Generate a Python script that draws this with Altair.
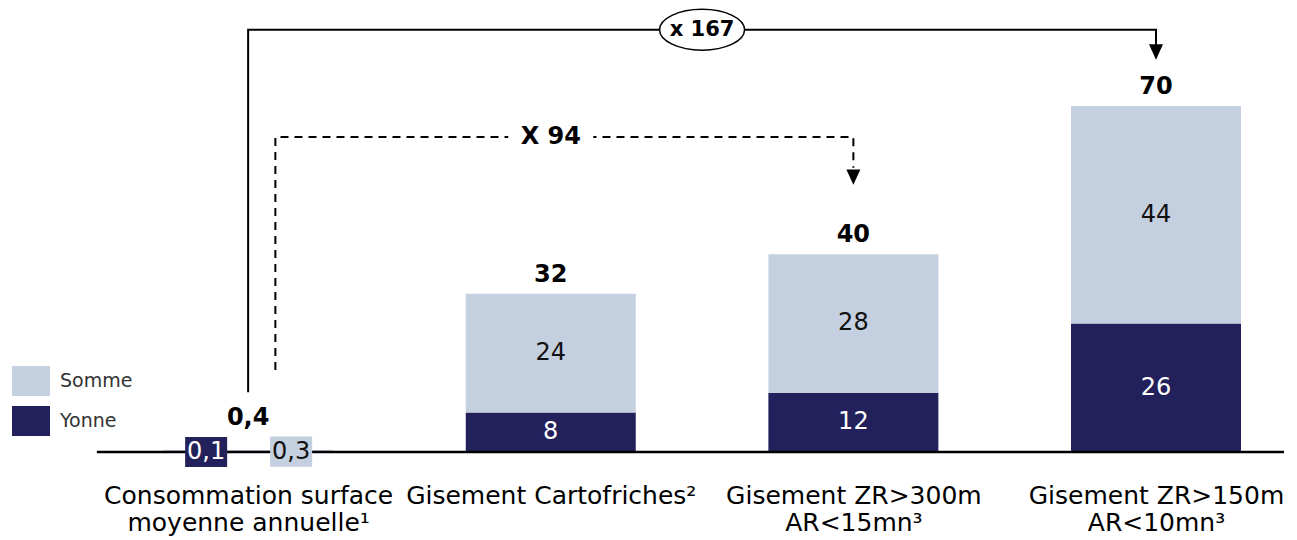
import json
import altair as alt
import pandas as pd

# ---------------- data ----------------
categories = [
    "Consommation surface|moyenne annuelle¹",
    "Gisement Cartofriches²",
    "Gisement ZR>300m|AR<15mn³",
    "Gisement ZR>150m|AR<10mn³",
]
positions = [0, 1, 2, 3]
yonne = [0.1, 8, 12, 26]
somme = [0.3, 24, 28, 44]
totals = [0.4, 32, 40, 70]
series_names = ["Somme", "Yonne"]
series_colors = ["#C4CFE0", "#23215B"]

# annotation brackets (data space)
solid_x = [0, 0, 3, 3]
solid_y = [12.1, 85.4, 85.4, 82.3]
dash_x = [0.09, 0.09, 2, 2]
dash_y = [16.6, 63.7, 63.7, 57.5]
arrow_x = [3, 2]
arrow_y = [80.9, 55.6]
ratio_labels = ["x 167", "X 94"]
ratio_x = [1.5, 1.0]
ratio_y = [85.4, 63.7]
baseline_x = [-0.5, 3.423]


def fr(v):
    return ("%g" % v).replace(".", ",")


rows = []
for i, p in enumerate(positions):
    rows.append(dict(pos=p, series="Yonne", order=0, value=yonne[i], label=fr(yonne[i])))
    rows.append(dict(pos=p, series="Somme", order=1, value=somme[i], label=fr(somme[i])))
df = pd.DataFrame(rows)
tot_df = pd.DataFrame(dict(pos=positions, total=totals, label=[fr(t) for t in totals]))

solid_df = pd.DataFrame(dict(px=solid_x, py=solid_y, step=range(len(solid_x))))
dash_df = pd.DataFrame(dict(px=dash_x, py=dash_y, step=range(len(dash_x))))
arrow_df = pd.DataFrame(dict(px=arrow_x, py=arrow_y))
ratio_df = pd.DataFrame(dict(px=ratio_x, py=ratio_y, label=ratio_labels))
base_df = pd.DataFrame(dict(x1=[baseline_x[0]], x2=[baseline_x[1]], y=[0]))

FONT = "DejaVu Sans"
W, H = 1281, 444

label_expr = "split(%s[datum.value], '|')" % json.dumps(categories, ensure_ascii=False)
xaxis = alt.Axis(
    values=positions, labelExpr=label_expr, domain=False, ticks=False, grid=False,
    labelFontSize=25, labelColor="#000000", labelFont=FONT, labelPadding=31,
    labelLineHeight=27, labelFlush=False, labelOverlap=False, labelLimit=0, title=None,
)
xscale = alt.Scale(domain=[-0.777, 3.423], nice=False, zero=False)
yscale = alt.Scale(domain=[0, 89.8], nice=False, zero=True)


def X(field):
    return alt.X(field, type="quantitative", scale=xscale, axis=xaxis, title=None)


def Y(field):
    return alt.Y(field, type="quantitative", scale=yscale, axis=None, title=None)


color = alt.Color(
    "series:N",
    scale=alt.Scale(domain=series_names, range=series_colors),
    legend=alt.Legend(
        orient="none", legendX=4, legendY=354, title=None,
        symbolType="M-1,-0.79L1,-0.79L1,0.79L-1,0.79Z", symbolSize=1444,
        symbolStrokeWidth=0, symbolOpacity=1, labelFontSize=19, labelFont=FONT,
        labelColor="#333333", labelOffset=10, rowPadding=5, padding=0,
    ),
)

stacked = alt.Chart(df).transform_stack(
    stack="value", as_=["y0", "y1"], groupby=["pos"], sort=[alt.SortField("order")]
).transform_calculate(mid="(datum.y0 + datum.y1) / 2")

bars = stacked.mark_bar(size=170).encode(x=X("pos"), y=Y("y0"), y2="y1", color=color)

inner = stacked.transform_filter("datum.pos > 0").mark_text(
    font=FONT, fontSize=24, baseline="middle"
).encode(
    x=X("pos"), y=Y("mid"), text="label:N",
    color=alt.condition("datum.series == 'Yonne'", alt.value("#ffffff"), alt.value("#111111")),
)

baseline = alt.Chart(base_df).mark_rule(color="#000000", strokeWidth=2.5).encode(
    x=X("x1"), x2="x2", y=Y("y")
)

small = stacked.transform_filter("datum.pos == 0")
box_path = "M-1,-0.72L1,-0.72L1,0.72L-1,0.72Z"
nolegend_color = alt.Color("series:N", scale=alt.Scale(domain=series_names, range=series_colors), legend=None)
box_y = small.transform_filter("datum.series == 'Yonne'").mark_point(
    shape=box_path, size=1764, filled=True, opacity=1, strokeWidth=0, xOffset=-42
).encode(x=X("pos"), y=Y("y0"), color=nolegend_color)
box_s = small.transform_filter("datum.series == 'Somme'").mark_point(
    shape=box_path, size=1764, filled=True, opacity=1, strokeWidth=0, xOffset=43
).encode(x=X("pos"), y=Y("y0"), color=nolegend_color)
txt_y = small.transform_filter("datum.series == 'Yonne'").mark_text(
    font=FONT, fontSize=24, baseline="middle", dx=-42, color="#ffffff"
).encode(x=X("pos"), y=Y("y0"), text="label:N")
txt_s = small.transform_filter("datum.series == 'Somme'").mark_text(
    font=FONT, fontSize=24, baseline="middle", dx=43, color="#111111"
).encode(x=X("pos"), y=Y("y0"), text="label:N")

tot_big = alt.Chart(tot_df).transform_filter("datum.pos > 0").mark_text(
    font=FONT, fontSize=24, fontWeight="bold", baseline="bottom", dy=-7, color="#000000"
).encode(x=X("pos"), y=Y("total"), text="label:N")
tot_small = alt.Chart(tot_df).transform_filter("datum.pos == 0").mark_text(
    font=FONT, fontSize=24, fontWeight="bold", baseline="middle", dy=-32, color="#000000"
).encode(x=X("pos"), y=Y("total"), text="label:N")

solid_line = alt.Chart(solid_df).mark_line(color="#000000", strokeWidth=2).encode(
    x=X("px"), y=Y("py"), order="step:Q"
)
dash_line = alt.Chart(dash_df).mark_line(color="#000000", strokeWidth=2, strokeDash=[8, 6]).encode(
    x=X("px"), y=Y("py"), order="step:Q"
)
arrows = alt.Chart(arrow_df).mark_point(
    shape="M-1,-1.1L1,-1.1L0,1.1Z", size=196, filled=True, opacity=1, color="#000000", strokeWidth=0
).encode(x=X("px"), y=Y("py"))

ratio_bg = alt.Chart(ratio_df).transform_filter("datum.label == 'X 94'").mark_point(
    shape="M-1,-0.2L1,-0.2L1,0.2L-1,0.2Z", size=7225, filled=True, opacity=1, color="#ffffff", strokeWidth=0
).encode(x=X("px"), y=Y("py"))
ellipse = alt.Chart(ratio_df).transform_filter("datum.label == 'x 167'").mark_point(
    shape="M-1,0A1,0.48 0 1,0 1,0A1,0.48 0 1,0 -1,0Z", size=7225, filled=False,
    fill="#ffffff", fillOpacity=1, opacity=1, stroke="#000000", strokeWidth=1.5
).encode(x=X("px"), y=Y("py"))
ratio_txt_a = alt.Chart(ratio_df).transform_filter("datum.label == 'x 167'").mark_text(
    font=FONT, fontSize=21, fontWeight="bold", baseline="middle", color="#000000"
).encode(x=X("px"), y=Y("py"), text="label:N")
ratio_txt_b = alt.Chart(ratio_df).transform_filter("datum.label == 'X 94'").mark_text(
    font=FONT, fontSize=24, fontWeight="bold", baseline="middle", color="#000000"
).encode(x=X("px"), y=Y("py"), text="label:N")

chart = alt.layer(
    bars, baseline, box_y, box_s, txt_y, txt_s, inner, tot_big, tot_small,
    solid_line, dash_line, arrows, ratio_bg, ellipse, ratio_txt_a, ratio_txt_b,
).properties(
    width=W, height=H,
    autosize=alt.AutoSizeParams(type="none"),
    padding={"left": 0, "top": 0, "right": 0, "bottom": 88},
    background="#ffffff",
).configure_view(stroke=None)

chart.save("out.html", embed_options={"renderer": "svg", "actions": False})
